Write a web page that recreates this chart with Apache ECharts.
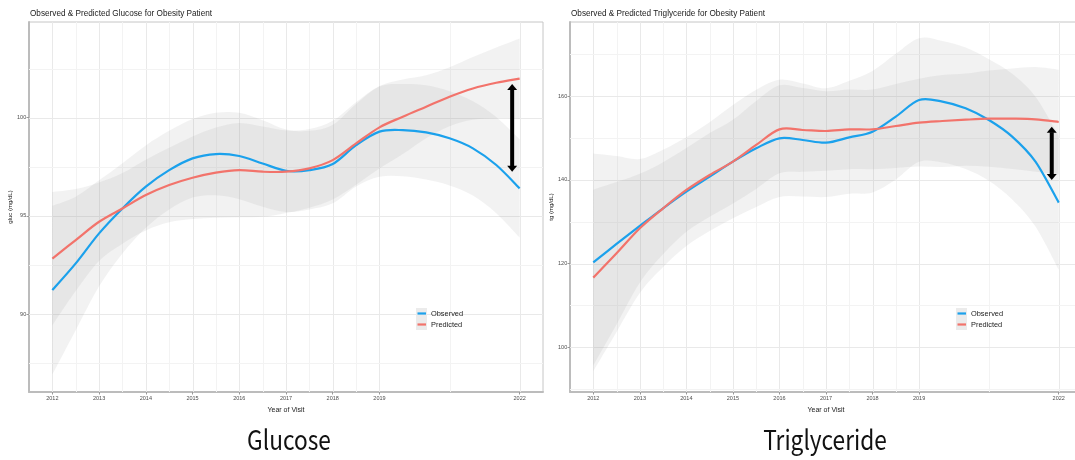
<!DOCTYPE html>
<html><head><meta charset="utf-8">
<script src="https://cdn.jsdelivr.net/npm/echarts@6/dist/echarts.min.js"></script>
<style>html,body{margin:0;padding:0;background:#fff}#c{width:1075px;height:460px}</style>
</head><body><div id="c"></div>
<script>
// ---------- data ----------
const years = [2012, 2012.5, 2013, 2013.5, 2014, 2014.5, 2015, 2015.5, 2016, 2016.5, 2017, 2017.5, 2018, 2018.5, 2019, 2019.5, 2020, 2020.5, 2021, 2021.5, 2022];

const glucoseObserved  = [91.22, 92.58, 94.11, 95.38, 96.49, 97.33, 97.93, 98.15, 98.05, 97.67, 97.30, 97.33, 97.64, 98.60, 99.29, 99.37, 99.25, 98.95, 98.44, 97.59, 96.40];
const glucoseObservedUpper = [95.52, 95.98, 96.81, 97.68, 98.59, 99.33, 99.93, 100.25, 100.25, 99.87, 99.40, 99.33, 99.64, 100.70, 101.59, 101.72, 101.65, 101.35, 100.84, 100.04, 98.90];
const glucoseObservedLower = [86.92, 89.18, 91.41, 93.08, 94.39, 95.33, 95.93, 96.05, 95.85, 95.47, 95.20, 95.33, 95.64, 96.50, 96.99, 97.02, 96.85, 96.55, 96.04, 95.14, 93.90];
const glucosePredicted = [92.82, 93.77, 94.70, 95.38, 96.06, 96.57, 96.94, 97.20, 97.33, 97.25, 97.25, 97.42, 97.84, 98.69, 99.51, 100.05, 100.56, 101.07, 101.49, 101.78, 101.99];
const glucosePredictedUpper = [96.22, 96.37, 96.70, 97.18, 97.86, 98.47, 99.04, 99.50, 99.73, 99.55, 99.35, 99.42, 99.84, 100.79, 101.61, 101.95, 102.16, 102.57, 103.09, 103.58, 104.04];
const glucosePredictedLower = [89.42, 91.17, 92.70, 93.58, 94.26, 94.67, 94.84, 94.90, 94.93, 94.95, 95.15, 95.42, 95.84, 96.59, 97.41, 98.15, 98.96, 99.57, 99.89, 99.98, 99.94];

const tgObserved  = [120.3, 124.68, 128.97, 133.19, 137.17, 140.75, 144.33, 147.51, 149.9, 149.5, 148.86, 150.14, 151.49, 155.07, 159.05, 158.65, 157.06, 154.27, 150.3, 144.33, 134.54];
const tgObservedUpper = [146.3, 145.68, 144.97, 147.19, 150.17, 153.75, 157.83, 161.51, 163.9, 163.0, 161.86, 163.64, 165.99, 170.07, 173.8, 173.15, 171.56, 168.77, 165.3, 159.83, 150.54];
const tgObservedLower = [94.3, 103.68, 112.97, 119.19, 124.17, 127.75, 130.83, 133.51, 135.9, 136.0, 135.86, 136.64, 136.99, 140.07, 144.3, 144.15, 142.56, 139.77, 135.3, 128.83, 118.54];
const tgPredicted = [116.64, 122.45, 128.42, 133.19, 137.57, 141.15, 144.33, 148.31, 152.04, 151.89, 151.65, 152.04, 152.04, 152.84, 153.64, 154.03, 154.35, 154.59, 154.59, 154.43, 153.79];
const tgPredictedUpper = [137.64, 139.45, 141.42, 144.19, 147.57, 151.15, 154.33, 158.81, 162.54, 161.89, 161.15, 161.54, 161.54, 162.84, 164.14, 165.03, 165.35, 166.09, 166.59, 166.93, 166.29];
const tgPredictedLower = [95.64, 105.45, 115.42, 122.19, 127.57, 131.15, 134.33, 137.81, 141.54, 141.89, 142.15, 142.54, 142.54, 142.84, 143.14, 143.03, 143.35, 143.09, 142.59, 141.93, 141.29];

const xTicks = [2012, 2013, 2014, 2015, 2016, 2017, 2018, 2019, 2022];
const xMinorTicks = [2012.5, 2013.5, 2014.5, 2015.5, 2016.5, 2017.5, 2018.5, 2020.5];
const glucoseTicks = [90, 95, 100];
const glucoseMinorTicks = [87.5, 92.5, 97.5, 102.5];
const tgTicks = [100, 120, 140, 160];
const tgMinorTicks = [90, 110, 130, 150, 170];

// double-headed gap arrows (tip values)
const glucoseGap = { x: 2021.84, top: 101.72, bottom: 97.25 };
const tgGap = { x: 2021.85, top: 152.67, bottom: 139.94 };

// ---------- build ----------
const BLUE = '#1BA1EC', RED = '#F2736B';
const BAND = 'rgba(153,153,153,0.13)';
const FONT = 'Liberation Sans';
const pair = ys => years.map((x, i) => [x, ys[i]]);

// smooth curve through pixel points (Catmull-Rom -> cubic Bezier)
function curvePath(pts, move) {
  let d = (move ? 'M' : 'L') + pts[0][0] + ',' + pts[0][1];
  for (let i = 0; i < pts.length - 1; i++) {
    const p0 = pts[Math.max(i - 1, 0)], p1 = pts[i], p2 = pts[i + 1], p3 = pts[Math.min(i + 2, pts.length - 1)];
    const c1x = p1[0] + (p2[0] - p0[0]) / 6, c1y = p1[1] + (p2[1] - p0[1]) / 6;
    const c2x = p2[0] - (p3[0] - p1[0]) / 6, c2y = p2[1] - (p3[1] - p1[1]) / 6;
    d += ' C' + c1x + ',' + c1y + ' ' + c2x + ',' + c2y + ' ' + p2[0] + ',' + p2[1];
  }
  return d;
}
function bandSeries(gi, lo, hi) {
  return { type: 'custom', name: '_band', xAxisIndex: gi, yAxisIndex: gi, silent: true, z: 2,
    encode: { x: 0, y: 1 },
    data: years.map((x, i) => [x, lo[i], hi[i]]),
    renderItem: (params, api) => {
      if (params.dataIndex !== 0) return null;
      const up = years.map((x, i) => api.coord([x, hi[i]]));
      const dn = years.map((x, i) => api.coord([x, lo[i]])).reverse();
      return { type: 'path', shape: { pathData: curvePath(up, true) + ' ' + curvePath(dn, false) + ' Z' },
        style: { fill: BAND, stroke: null } };
    } };
}
function curveSeries(gi, name, ys, color) {
  return { type: 'custom', name, xAxisIndex: gi, yAxisIndex: gi, silent: true, z: 3,
    encode: { x: 0, y: 1 }, itemStyle: { color }, data: pair(ys),
    renderItem: (params, api) => {
      if (params.dataIndex !== 0) return null;
      const pts = years.map((x, i) => api.coord([x, ys[i]]));
      return { type: 'path', shape: { pathData: curvePath(pts, true) },
        style: { fill: 'none', stroke: color, lineWidth: 2.2, lineJoin: 'round' } };
    } };
}
function arrowSeries(gi, g) {
  return { type: 'custom', name: '_arrow', xAxisIndex: gi, yAxisIndex: gi, silent: true, z: 5,
    encode: { x: 0, y: 1 }, data: [[g.x, g.top, g.bottom]],
    renderItem: (params, api) => {
      const t = api.coord([api.value(0), api.value(1)]);
      const b = api.coord([api.value(0), api.value(2)]);
      const x = t[0], hw = 5, hh = 6;
      return { type: 'group', children: [
        { type: 'line', shape: { x1: x, y1: t[1] + hh - 0.5, x2: x, y2: b[1] - hh + 0.5 }, style: { stroke: '#000', lineWidth: 4 } },
        { type: 'polygon', shape: { points: [[x, t[1]], [x - hw, t[1] + hh], [x + hw, t[1] + hh]] }, style: { fill: '#000' } },
        { type: 'polygon', shape: { points: [[x, b[1]], [x - hw, b[1] - hh], [x + hw, b[1] - hh]] }, style: { fill: '#000' } }
      ] };
    } };
}

const panels = [
  { title: 'Observed & Predicted Glucose for Obesity Patient', yName: 'gluc (mg/dL)',
    left: 29, width: 514, yMin: 86.03, yMax: 104.875, yTicks: glucoseTicks, yMinor: glucoseMinorTicks,
    obs: glucoseObserved, obsU: glucoseObservedUpper, obsL: glucoseObservedLower,
    pred: glucosePredicted, predU: glucosePredictedUpper, predL: glucosePredictedLower,
    gap: glucoseGap, legendLeft: 416 },
  { title: 'Observed & Predicted Triglyceride for Obesity Patient', yName: 'tg (mg/dL)',
    left: 570, width: 512, yMin: 89.33, yMax: 177.67, yTicks: tgTicks, yMinor: tgMinorTicks,
    obs: tgObserved, obsU: tgObservedUpper, obsL: tgObservedLower,
    pred: tgPredicted, predU: tgPredictedUpper, predL: tgPredictedLower,
    gap: tgGap, legendLeft: 956 }
];

const grid = [], xAxis = [], yAxis = [], series = [], title = [], legend = [];
panels.forEach((p, gi) => {
  grid.push({ left: p.left, top: 22, width: p.width, height: 370, show: true, outerBoundsMode: 'none',
    containLabel: false, borderColor: '#c6c6c6', borderWidth: 1, backgroundColor: '#fff' });
  xAxis.push({ gridIndex: gi, type: 'value', min: 2011.5, max: 2022.5,
    name: 'Year of Visit', nameLocation: 'middle', nameGap: 10.5,
    nameTextStyle: { fontSize: 7, color: '#1a1a1a', fontFamily: FONT },
    axisLine: { show: true, onZero: false, lineStyle: { color: '#bcbcbc', width: 2 } },
    axisTick: { show: true, length: 2.5, customValues: xTicks, lineStyle: { color: '#999', width: 1 } },
    axisLabel: { customValues: xTicks, fontSize: 5.5, color: '#4d4d4d', margin: 3.5, fontFamily: FONT,
      formatter: v => String(v) },
    splitLine: { show: false } });
  yAxis.push({ gridIndex: gi, type: 'value', min: p.yMin, max: p.yMax,
    name: p.yName, nameLocation: 'middle', nameGap: 8,
    nameTextStyle: { fontSize: 6, color: '#1a1a1a', fontFamily: FONT },
    axisLine: { show: true, onZero: false, lineStyle: { color: '#bcbcbc', width: 2 } },
    axisTick: { show: true, length: 2.5, customValues: p.yTicks, lineStyle: { color: '#999', width: 1 } },
    axisLabel: { customValues: p.yTicks, fontSize: 5.5, color: '#4d4d4d', margin: 2.8, fontFamily: FONT,
      formatter: v => String(v) },
    splitLine: { show: false } });
  title.push({ text: p.title, left: p.left + 1, top: 9.5, padding: 0,
    textStyle: { fontSize: 8.2, fontWeight: 'normal', color: '#1a1a1a', fontFamily: FONT } });

  // grid lines (custom series from tick arrays)
  const gl = [];
  xTicks.forEach(v => gl.push([v, p.yMin, 0, 0]));
  xMinorTicks.forEach(v => gl.push([v, p.yMin, 0, 1]));
  p.yTicks.forEach(v => gl.push([2011.5, v, 1, 0]));
  p.yMinor.forEach(v => gl.push([2011.5, v, 1, 1]));
  series.push({ type: 'custom', name: '_grid' + gi, xAxisIndex: gi, yAxisIndex: gi, silent: true, z: 1,
    encode: { x: 0, y: 1 },
    data: gl,
    renderItem: (params, api) => {
      const cs = params.coordSys;
      const pt = api.coord([api.value(0), api.value(1)]);
      const col = api.value(3) ? '#f3f3f3' : '#e9e9e9';
      if (api.value(2) === 0) {
        return { type: 'line', shape: { x1: Math.round(pt[0]) + 0.5, y1: cs.y, x2: Math.round(pt[0]) + 0.5, y2: cs.y + cs.height },
          style: { stroke: col, lineWidth: 1 } };
      }
      return { type: 'line', shape: { x1: cs.x, y1: Math.round(pt[1]) + 0.5, x2: cs.x + cs.width, y2: Math.round(pt[1]) + 0.5 },
        style: { stroke: col, lineWidth: 1 } };
    } });

  series.push(bandSeries(gi, p.obsL, p.obsU));
  series.push(bandSeries(gi, p.predL, p.predU));
  series.push(curveSeries(gi, 'Observed', p.obs, BLUE));
  series.push(curveSeries(gi, 'Predicted', p.pred, RED));
  series.push(arrowSeries(gi, p.gap));

  legend.push({ data: ['Observed', 'Predicted'], orient: 'vertical', left: p.legendLeft, top: 308, padding: 0,
    itemWidth: 11, itemHeight: 11, itemGap: 0, icon: 'rect', selectedMode: false, z: 5,
    itemStyle: { color: '#ebebeb', borderWidth: 0 },
    textStyle: { color: 'rgba(0,0,0,0)', fontSize: 7.4, lineHeight: 11, fontFamily: FONT } });
  legend.push({ data: ['Observed', 'Predicted'], orient: 'vertical', left: p.legendLeft + 1.5, top: 308, padding: 0,
    itemWidth: 8.5, itemHeight: 2.2, itemGap: 0, icon: 'rect', selectedMode: false, z: 6,
    textStyle: { color: '#1a1a1a', fontSize: 7.4, lineHeight: 11, fontFamily: FONT } });
});

const chart = echarts.init(document.getElementById('c'), null, { renderer: 'canvas' });
chart.setOption({
  animation: false,
  backgroundColor: '#fff',
  title, grid, xAxis, yAxis, legend, series,
  graphic: [
    { type: 'text', x: 289, y: 440, scaleX: 0.84, style: { text: 'Glucose', textAlign: 'center', textVerticalAlign: 'middle',
      fontSize: 27, fontFamily: 'Noto Sans CJK KR', fill: '#111' } },
    { type: 'text', x: 825, y: 440, scaleX: 0.84, style: { text: 'Triglyceride', textAlign: 'center', textVerticalAlign: 'middle',
      fontSize: 27, fontFamily: 'Noto Sans CJK KR', fill: '#111' } }
  ]
});
</script></body></html>
